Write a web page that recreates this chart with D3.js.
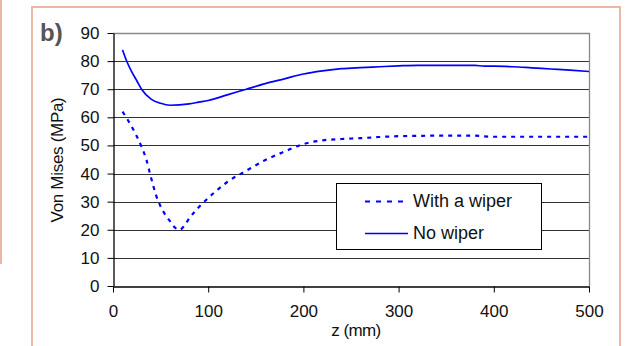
<!DOCTYPE html>
<html lang="en">
<head>
<meta charset="UTF-8">
<title>Von Mises</title>
<script src="https://d3js.org/d3.v7.min.js"></script>
<style>
  body { margin: 0; background: #fff; }
  svg text { font-family: "Liberation Sans", Arial, sans-serif; }
</style>
</head>
<body>
<div id="chart"></div>
<script>
// z positions (mm) and stresses (MPa)
var zNoWiper = [10, 15, 20, 25, 30, 40, 50, 60, 80, 90, 100, 120, 140, 160, 180, 200, 220, 240, 260, 280, 300, 320, 340, 360, 380, 390, 400, 420, 440, 460, 480, 500];
var vNoWiper = [84, 79.5, 76, 73, 70, 66.5, 65, 64.3, 64.8, 65.4, 66, 68, 70, 72, 73.7, 75.4, 76.5, 77.3, 77.7, 78, 78.3, 78.5, 78.5, 78.5, 78.5, 78.2, 78.2, 78, 77.6, 77.2, 76.8, 76.3];

var zWiper = [10, 20, 30, 35, 40, 45, 50, 55, 60, 65, 70, 75, 80, 90, 100, 110, 120, 140, 160, 180, 200, 210, 220, 240, 260, 280, 300, 320, 340, 360, 380, 390, 400, 420, 440, 460, 480, 500];
var vWiper = [62, 56.5, 49.5, 45, 38.5, 32.5, 28.3, 25.3, 23, 20.8, 20, 21.5, 24, 28, 31.3, 34.3, 37, 41, 44.8, 47.8, 50.5, 51.3, 51.8, 52.3, 52.6, 53, 53.3, 53.4, 53.5, 53.5, 53.5, 53.2, 53.1, 53.1, 53.1, 53.1, 53.1, 53.1];

var xTicks = [0, 100, 200, 300, 400, 500];
var yTicks = [0, 10, 20, 30, 40, 50, 60, 70, 80, 90];
var seriesNames = ["With a wiper", "No wiper"];

var W = 626, H = 346;
var svg = d3.select("#chart").append("svg")
  .attr("width", W).attr("height", H);

// pink frame pieces
var frame = "#ebb8a6";
svg.append("line").attr("x1", 1).attr("x2", 1).attr("y1", 0).attr("y2", 264)
  .attr("stroke", frame).attr("stroke-width", 2);
svg.append("path").attr("d", "M32,346 L32,7 L620,7 L620,346")
  .attr("fill", "none").attr("stroke", frame).attr("stroke-width", 2);

var x = d3.scaleLinear().domain([0, 500]).range([113, 589]);
var y = d3.scaleLinear().domain([0, 90]).range([286, 33]);

// gridlines
svg.append("g").selectAll("line").data(yTicks.filter(d => d > 0 && d < 90)).join("line")
  .attr("x1", x(0)).attr("x2", x(500))
  .attr("y1", d => Math.round(y(d)) + 0.5).attr("y2", d => Math.round(y(d)) + 0.5)
  .attr("stroke", "#333").attr("stroke-width", 1);
// plot frame top/right
svg.append("path")
  .attr("d", "M" + x(0) + "," + (Math.round(y(90)) + 0.5) + " H" + (x(500) + 0.5) + " V" + y(0))
  .attr("fill", "none").attr("stroke", "#888").attr("stroke-width", 1.3);

// axes
var yAxis = d3.axisLeft(y).tickValues(yTicks).tickSize(6).tickSizeOuter(0);
var gy = svg.append("g").attr("transform", "translate(" + (x(0) + 0.5) + ",0)").call(yAxis);
var xAxis = d3.axisBottom(x).tickValues(xTicks).tickSize(6).tickSizeOuter(0);
var gx = svg.append("g").attr("transform", "translate(0," + (Math.round(y(0)) + 0.5) + ")").call(xAxis);
[gy, gx].forEach(function(g) {
  g.select(".domain").attr("stroke", "#000").attr("stroke-width", 1.3);
  g.selectAll(".tick line").attr("stroke", "#000");
  g.selectAll(".tick text").attr("fill", "#111").attr("font-size", "17px")
    .attr("font-family", "Liberation Sans, Arial, sans-serif");
});
gy.selectAll(".tick text").attr("x", -14);
gx.selectAll(".tick text").attr("y", 18);

// lines
var line = d3.line().x(d => x(d[0])).y(d => y(d[1])).curve(d3.curveMonotoneX);
svg.append("path").datum(d3.zip(zWiper, vWiper))
  .attr("d", line).attr("fill", "none").attr("stroke", "#0000ff")
  .attr("stroke-width", 2.2).attr("stroke-dasharray", "4,5");
svg.append("path").datum(d3.zip(zNoWiper, vNoWiper))
  .attr("d", line).attr("fill", "none").attr("stroke", "#0000ff")
  .attr("stroke-width", 1.7);

// legend
var lg = svg.append("g");
lg.append("rect").attr("x", 336.5).attr("y", 183.5).attr("width", 205).attr("height", 66)
  .attr("fill", "#fff").attr("stroke", "#000").attr("stroke-width", 1);
seriesNames.forEach(function(name, i) {
  var ly = 201.5 + i * 32;
  lg.append("line").attr("x1", 365).attr("x2", 408).attr("y1", ly).attr("y2", ly)
    .attr("stroke", "#0000ff").attr("stroke-width", i === 0 ? 2.2 : 1.7)
    .attr("stroke-dasharray", i === 0 ? "5,6" : null);
  lg.append("text").attr("x", 413).attr("y", ly + 5).attr("font-size", "18px")
    .attr("fill", "#111").text(name);
});

// axis titles
svg.append("text").attr("x", 356).attr("y", 336).attr("text-anchor", "middle")
  .attr("font-size", "17px").attr("letter-spacing", "-0.6").attr("fill", "#111").text("z (mm)");
svg.append("text").attr("transform", "translate(63,160) rotate(-90)")
  .attr("text-anchor", "middle").attr("font-size", "17px").attr("letter-spacing", "-0.3")
  .attr("fill", "#111").text("Von Mises (MPa)");

svg.append("text").attr("x", 40).attr("y", 41).attr("font-size", "24px")
  .attr("font-weight", "bold").attr("fill", "#555").text("b)");
</script>
</body>
</html>
